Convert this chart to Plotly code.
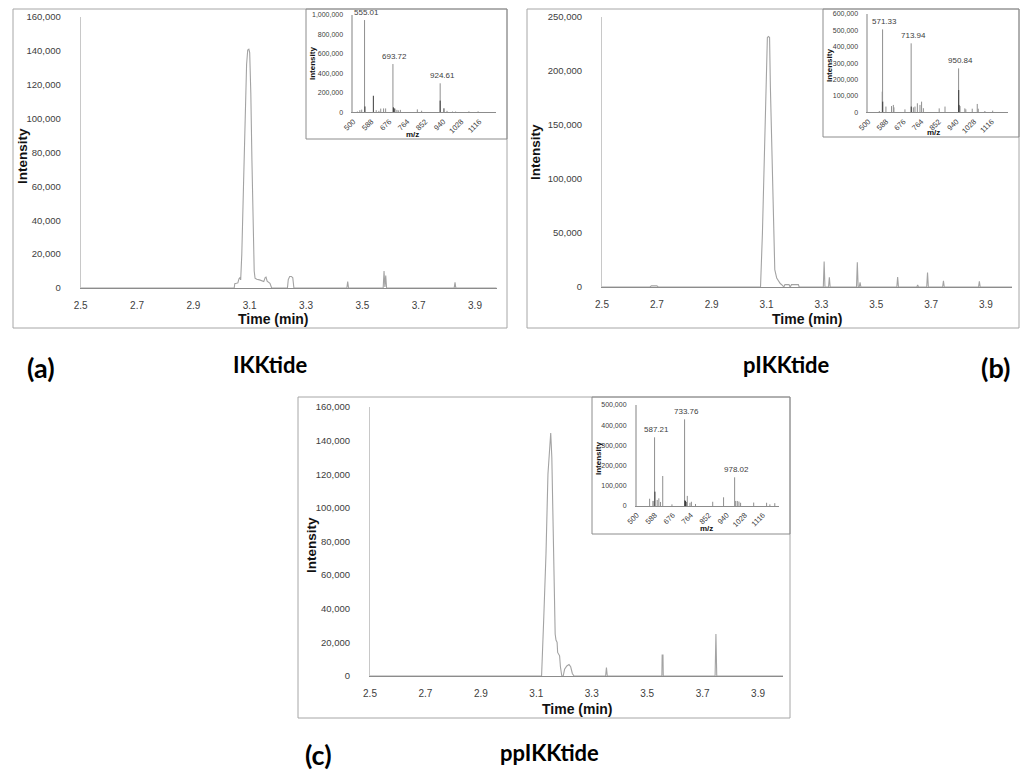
import plotly.graph_objects as go

W, H = 1028, 771

# ---------------- data: chromatograms (time in min, intensity) ----------------
time_a = [2.50, 3.045, 3.047, 3.058, 3.062, 3.065, 3.068, 3.072, 3.078, 3.084, 3.089, 3.093,
          3.097, 3.100, 3.104, 3.108, 3.112, 3.116, 3.119, 3.125, 3.135, 3.145, 3.150, 3.155,
          3.158, 3.162, 3.166, 3.172, 3.178, 3.234, 3.237, 3.242, 3.248, 3.253, 3.257, 3.445,
          3.448, 3.451, 3.574, 3.577, 3.580, 3.583, 3.586, 3.826, 3.829, 3.832, 3.977]
int_a = [0, 0, 2500, 3000, 5500, 6000, 4800, 20000, 60000, 105000, 132000, 140500,
         141000, 139000, 115000, 75000, 35000, 10000, 5800, 5200, 4800, 4200, 3800, 6200,
         6500, 4000, 3500, 2800, 0, 0, 5000, 6800, 6800, 6000, 0, 0,
         3800, 0, 0, 10000, 600, 7300, 0, 0, 3300, 0, 0]

time_b = [2.50, 2.675, 2.680, 2.700, 2.705, 3.078, 3.085, 3.091, 3.097, 3.103, 3.107, 3.111,
          3.114, 3.117, 3.121, 3.126, 3.130, 3.137, 3.145, 3.150, 3.158, 3.163, 3.167, 3.182,
          3.186, 3.191, 3.216, 3.219, 3.307, 3.310, 3.313, 3.326, 3.329, 3.332, 3.428, 3.431,
          3.434, 3.438, 3.441, 3.444, 3.575, 3.578, 3.581, 3.648, 3.651, 3.654, 3.684, 3.687,
          3.690, 3.742, 3.745, 3.748, 3.873, 3.876, 3.879, 3.995]
int_b = [0, 0, 1000, 1000, 0, 0, 50000, 115000, 190000, 231000, 232000, 231000,
         185000, 157000, 110000, 53000, 16000, 8300, 4500, 3200, 1500, 0, 2200, 2200,
         0, 2200, 2200, 0, 0, 23700, 0, 0, 9000, 0, 0, 22800,
         0, 0, 4300, 0, 0, 9200, 0, 0, 2000, 0, 0, 13500,
         0, 0, 5800, 0, 0, 5200, 0, 0]

time_c = [2.50, 3.119, 3.127, 3.135, 3.142, 3.148, 3.152, 3.156, 3.161, 3.165, 3.168, 3.171,
          3.175, 3.177, 3.181, 3.184, 3.187, 3.192, 3.197, 3.202, 3.210, 3.218, 3.224, 3.230,
          3.236, 3.350, 3.353, 3.356, 3.553, 3.554, 3.557, 3.558, 3.745, 3.748, 3.751, 3.990]
int_c = [0, 0, 35000, 73000, 120000, 140000, 144500, 130000, 93000, 45000, 25000, 21400,
         20000, 14000, 13000, 12000, 5500, 0, 0, 4000, 6000, 6800, 5500, 1500,
         0, 0, 5000, 0, 0, 12500, 12500, 0, 0, 25000, 0, 0]

# ---------------- data: inset mass spectra (m/z, intensity) ----------------
mz_a = [520, 532, 541, 555.01, 612, 625, 634, 648, 658, 693.72, 704, 713, 720, 730,
        813, 834, 924.61, 958, 985, 1000, 1065, 1110]
ms_a = [8000, 22000, 28000, 948000, 22000, 15000, 38000, 40000, 40000, 496000, 38000, 25000,
        20000, 25000, 30000, 16000, 298000, 15000, 8000, 8000, 10000, 10000]
mz_a_dark = [557, 598, 696, 700, 924.61, 943]
ms_a_dark = [60000, 170000, 51000, 40000, 120000, 41000]
lab_a = ["555.01", "693.72", "924.61"]
lab_a_mz = [555.01, 693.72, 924.61]
lab_a_int = [948000, 496000, 298000]

mz_b = [555, 569.5, 571.33, 588, 616, 625, 628, 683, 713.94, 725, 733, 745, 758, 766, 775,
        854, 883, 950.84, 958, 982, 987, 1019, 1044, 1049, 1082, 1121]
ms_b = [8000, 126000, 506000, 35000, 38000, 45000, 30000, 18000, 421000, 30000, 35000, 55000,
        45000, 65000, 25000, 24000, 35000, 268000, 38000, 24000, 18000, 22000, 51000, 22000,
        8000, 10000]
mz_b_dark = [572, 714.5, 951.5, 953]
ms_b_dark = [65000, 35000, 136000, 45000]
lab_b = ["571.33", "713.94", "950.84"]
lab_b_mz = [571.33, 713.94, 950.84]
lab_b_int = [506000, 421000, 268000]

mz_c = [563, 579, 584, 587.21, 600, 608, 616, 627, 672, 733.76, 747, 760, 767, 787, 871, 924,
        978.02, 983, 991, 999, 1007, 1071, 1134, 1150, 1174]
ms_c = [36000, 25000, 25000, 340000, 30000, 38000, 20000, 148500, 8000, 429000, 50000, 16000,
        21000, 10000, 21000, 43000, 142000, 25000, 25000, 22000, 16000, 17000, 16000, 8000, 14000]
mz_c_dark = [589, 735, 738, 741]
ms_c_dark = [71000, 28000, 25000, 20000]
lab_c = ["587.21", "733.76", "978.02"]
lab_c_mz = [587.21, 733.76, 978.02]
lab_c_int = [340000, 429000, 142000]

panel_tags = ["(a)", "(b)", "(c)"]
panel_names = ["IKKtide", "pIKKtide", "ppIKKtide"]

# ---------------- helpers ----------------
FONT = "Liberation Sans, Arial, sans-serif"
BIG = "Lato, Open Sans, sans-serif"


def pxx(x):
    return x / W


def pyy(y):
    return 1 - y / H


def sticks(mz, inten):
    xs, ys = [], []
    for m, v in zip(mz, inten):
        xs += [m, m, None]
        ys += [0, v, None]
    return xs, ys


fig = go.Figure()
layout = dict(width=W, height=H, margin=dict(l=0, r=0, t=0, b=0, pad=0, autoexpand=False),
              paper_bgcolor="white", plot_bgcolor="rgba(0,0,0,0)", showlegend=False,
              font=dict(family=FONT, color="#404040"))
annotations = []
shapes = []


def ax_names(n):
    if n == 1:
        return "xaxis", "yaxis", "x", "y"
    return f"xaxis{n}", f"yaxis{n}", f"x{n}", f"y{n}"


def add_main(n, t, v, box_px, xmax, ymax, ydtick):
    xa, ya, xr, yr = ax_names(n)
    x0, x1, ytop, ybot = box_px
    fig.add_trace(go.Scatter(x=t, y=v, mode="lines", xaxis=xr, yaxis=yr,
                             line=dict(color="#a3a3a3", width=1.1), hoverinfo="skip"))
    layout[xa] = dict(domain=[pxx(x0), pxx(x1)], range=[2.5, xmax], anchor=yr, automargin=False,
                      tick0=2.5, dtick=0.2, tickformat=".1f", showgrid=False, zeroline=False,
                      showline=True, linecolor="#8c8c8c", linewidth=1, ticks="",
                      ticklabelstandoff=8, tickfont=dict(size=10, color="#404040"))
    layout[ya] = dict(domain=[pyy(ybot), pyy(ytop)], range=[0, ymax], anchor=xr, automargin=False,
                      tick0=0, dtick=ydtick, tickformat=",", showgrid=False, zeroline=False,
                      showline=True, linecolor="#c8c8c8", linewidth=1, ticks="",
                      ticklabelstandoff=17, tickfont=dict(size=9.5, color="#404040"))


def add_inset(n, mz, ms, mzd, msd, labs, labmz, labint, box_px, ymax, ydtick):
    xa, ya, xr, yr = ax_names(n)
    x0, x1, ytop, ybot = box_px
    xs, ys = sticks(mz, ms)
    fig.add_trace(go.Scatter(x=xs, y=ys, mode="lines", xaxis=xr, yaxis=yr,
                             line=dict(color="#8f8f8f", width=1), hoverinfo="skip"))
    xs, ys = sticks(mzd, msd)
    fig.add_trace(go.Scatter(x=xs, y=ys, mode="lines", xaxis=xr, yaxis=yr,
                             line=dict(color="#3a3a3a", width=1), hoverinfo="skip"))
    layout[xa] = dict(domain=[pxx(x0), pxx(x1)], range=[500, 1196], anchor=yr, automargin=False,
                      tick0=500, dtick=88, tickangle=-45, showgrid=False, zeroline=False,
                      showline=True, linecolor="#8c8c8c", linewidth=1, ticks="",
                      ticklabelstandoff=1, tickfont=dict(size=7.5, color="#404040"))
    layout[ya] = dict(domain=[pyy(ybot), pyy(ytop)], range=[0, ymax], anchor=xr, automargin=False,
                      tick0=0, dtick=ydtick, tickformat=",", showgrid=False, zeroline=False,
                      showline=True, linecolor="#c0c0c0", linewidth=1.5, ticks="",
                      ticklabelstandoff=7, tickfont=dict(size=7, color="#404040"))
    for s, m, v in zip(labs, labmz, labint):
        annotations.append(dict(x=m, y=v, xref=xr, yref=yr, text=s, showarrow=False,
                                xanchor="center", yanchor="bottom", yshift=1, xshift=2,
                                font=dict(size=8, color="#404040", family=FONT)))


def txt(s, x, y, size, bold=True, angle=0, family=FONT, color="#111111"):
    annotations.append(dict(x=pxx(x), y=pyy(y), xref="paper", yref="paper",
                            text=f"<b>{s}</b>" if bold else s, showarrow=False,
                            xanchor="center", yanchor="middle", textangle=angle,
                            font=dict(size=size, family=family, color=color)))


def rect(x0, y0, x1, y1, color="#a6a6a6"):
    shapes.append(dict(type="rect", xref="paper", yref="paper",
                       x0=pxx(x0), x1=pxx(x1), y0=pyy(y1), y1=pyy(y0),
                       line=dict(color=color, width=1), fillcolor="rgba(0,0,0,0)", layer="above"))


# ---------------- panel (a) ----------------
add_main(1, time_a, int_a, (80.7, 496.7, 17, 288), 3.977, 160000, 20000)
add_inset(2, mz_a, ms_a, mz_a_dark, ms_a_dark, lab_a, lab_a_mz, lab_a_int,
          (353.3, 495.7, 15, 112.3), 1000000, 200000)
rect(13, 9, 507, 328)
rect(306, 9, 507, 139, "#8c8c8c")
txt("Time (min)", 273, 319, 14)
txt("Intensity", 23, 156, 13.5, angle=-90)
txt("Intensity", 312, 64, 8, angle=-90)
txt("m/z", 412, 134.5, 8)

# ---------------- panel (b) ----------------
add_main(3, time_b, int_b, (602, 1012, 17, 287), 3.995, 250000, 50000)
add_inset(4, mz_b, ms_b, mz_b_dark, ms_b_dark, lab_b, lab_b_mz, lab_b_int,
          (868.3, 1007.7, 14, 112.3), 600000, 100000)
rect(527, 9, 1019, 328)
rect(823, 9, 1019, 137, "#8c8c8c")
txt("Time (min)", 807, 319, 14)
txt("Intensity", 536, 152, 13.5, angle=-90)
txt("Intensity", 829, 66, 8, angle=-90)
txt("m/z", 933, 132.5, 8)

# ---------------- panel (c) ----------------
add_main(5, time_c, int_c, (370, 783, 407, 676), 3.99, 160000, 20000)
add_inset(6, mz_c, ms_c, mz_c_dark, ms_c_dark, lab_c, lab_c_mz, lab_c_int,
          (636.7, 779.3, 405, 506), 500000, 100000)
rect(298, 397, 790, 718)
rect(592, 397, 790, 534, "#8c8c8c")
txt("Time (min)", 577, 709, 14)
txt("Intensity", 311, 545, 13.5, angle=-90)
txt("Intensity", 598, 459, 8, angle=-90)
txt("m/z", 706, 528.5, 8)

# ---------------- panel captions ----------------
txt(panel_tags[0], 41, 367, 27, family=BIG, color="#000000")
txt(panel_names[0], 270, 364, 22, family=BIG, color="#000000")
txt(panel_names[1], 786, 364, 22, family=BIG, color="#000000")
txt(panel_tags[1], 995, 367, 27, family=BIG, color="#000000")
txt(panel_tags[2], 318, 754, 27, family=BIG, color="#000000")
txt(panel_names[2], 549, 752, 22, family=BIG, color="#000000")

layout["annotations"] = annotations
layout["shapes"] = shapes
fig.update_layout(**layout)
fig.write_html("out.html", config={"displayModeBar": False},
               post_script="document.body.style.margin='0';document.body.style.padding='0';"
                           "window.dispatchEvent(new Event('resize'));")
